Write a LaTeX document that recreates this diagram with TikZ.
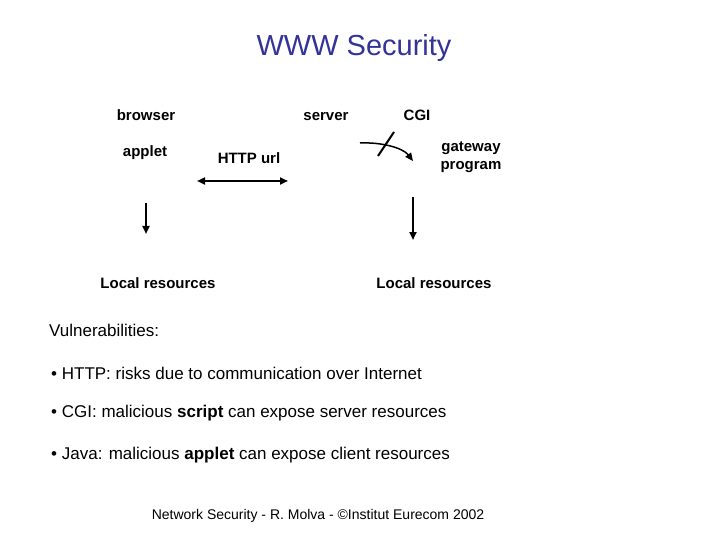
\documentclass[tikz,border=0pt]{standalone}
\usepackage{fontspec}
\setmainfont{Liberation Sans}
\usetikzlibrary{arrows.meta}
\definecolor{titleblue}{HTML}{333399}
\tikzset{
  lbl/.style={font=\fontsize{15}{18}\selectfont\bfseries, inner sep=0pt, align=center, anchor=base},
  body/.style={font=\fontsize{17}{20}\selectfont, inner sep=0pt, anchor=west},
  tip/.tip={Triangle[length=8pt 0 0,width=7pt 0 0]},
  arr/.style={line width=2pt, -tip},
}
\begin{document}
\begin{tikzpicture}[x=1pt,y=-1pt]
\useasboundingbox (0,0) rectangle (720,540);
\node[font=\fontsize{29}{32}\selectfont, text=titleblue, inner sep=0pt, anchor=base] (title) at (354,56) {WWW Security};
\node[lbl] (browser) at (146,121) {browser};
\node[lbl] (server) at (326,121) {server};
\node[lbl] (cgi) at (417,121) {CGI};
\node[lbl] (applet) at (145,157) {applet};
\node[lbl] (http) at (249,164) {HTTP url};
\node[lbl, anchor=center] (gateway) at (471,157) {gateway\\program};
\node[lbl, anchor=center] (local1) at (158,283) {Local resources};
\node[lbl, anchor=center] (local2) at (434,283) {Local resources};

\coordinate (h1) at (197,181);
\coordinate (h2) at (288,181);
\draw[line width=2pt, tip-tip] (h1) -- (h2);

\coordinate (c1) at (360,143);
\coordinate (c2) at (413,161);
\draw[arr, line width=1.5pt] (c1) .. controls (382,142) and (403,148) .. (c2);
\coordinate (s1) at (378,156);
\coordinate (s2) at (394,132);
\draw[line width=2pt] (s1) -- (s2);

\coordinate (a1) at (146,203);
\coordinate (a2) at (146,234);
\draw[arr, line width=2.5pt] (a1) -- (a2);
\coordinate (b1) at (413,197);
\coordinate (b2) at (413,240);
\draw[arr] (b1) -- (b2);

\node[body] (vuln) at (49,330) {Vulnerabilities:};
\node[body] (v1) at (51,373) {\textbullet{} HTTP: risks due to communication over Internet};
\node[body] (v2) at (51,413) {\textbullet{} CGI: malicious \textbf{script} can expose server resources};
\node[body] (v3) at (51,455) {\textbullet{} Java: malicious \textbf{applet} can expose client resources};
\node[font=\fontsize{14}{16}\selectfont, inner sep=0pt] (footer) at (318,516) {Network Security - R. Molva - ©Institut Eurecom 2002};
\end{tikzpicture}
\end{document}
